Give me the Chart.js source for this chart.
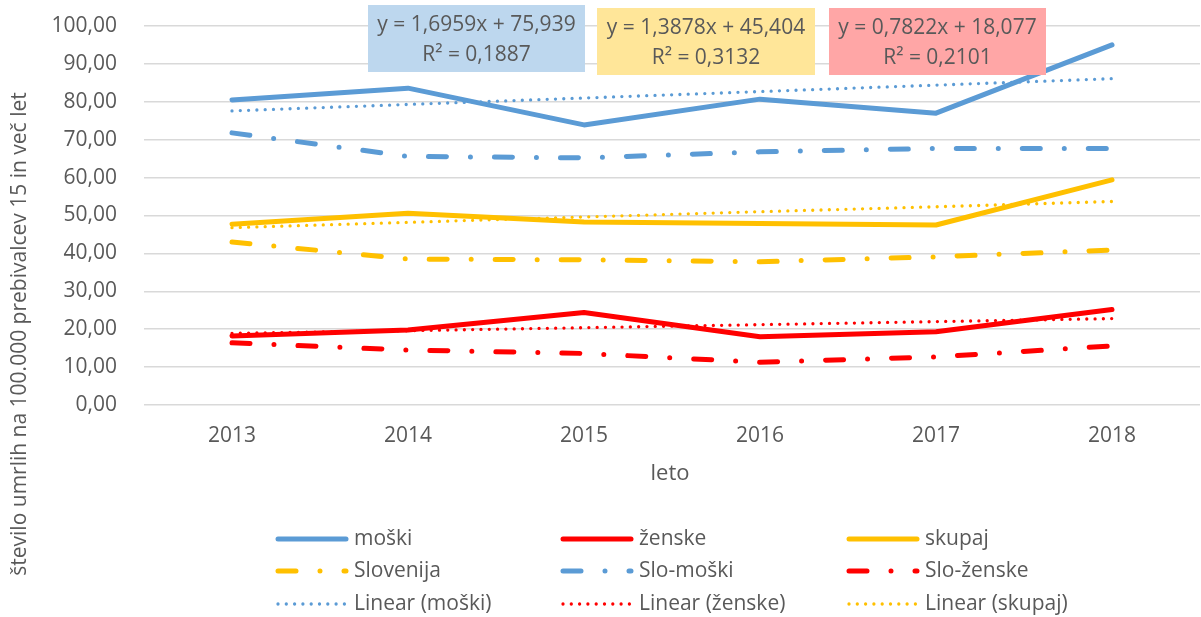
<!DOCTYPE html>
<html>
<head>
<meta charset="utf-8">
<script src="https://cdn.jsdelivr.net/npm/chart.js@4"></script>
<style>
    html, body { margin: 0; padding: 0; background: #fff; overflow: hidden; }
    #graf { display: block; }
</style>
</head>
<body>
<canvas id="graf" width="1201" height="617"></canvas>
<script>
// === Podatki ===
const leta = ['2013', '2014', '2015', '2016', '2017', '2018'];
const moski = [80.5, 83.6, 73.9, 80.7, 77.0, 95.0];
const zenske = [18.2, 19.8, 24.4, 18.0, 19.3, 25.2];
const skupaj = [47.7, 50.6, 48.3, 47.9, 47.5, 59.4];
const slovenija = [43.0, 38.5, 38.3, 37.8, 39.1, 40.9];
const sloMoski = [71.8, 65.6, 65.2, 66.8, 67.7, 67.7];
const sloZenske = [16.4, 14.5, 13.6, 11.3, 12.7, 15.6];
const linMoski = [77.6, 79.3, 81.0, 82.7, 84.4, 86.1];
const linZenske = [18.9, 19.6, 20.4, 21.2, 22.0, 22.8];
const linSkupaj = [46.8, 48.2, 49.6, 51.0, 52.3, 53.7];
const enacbe = [
    ['y = 1,6959x + 75,939', 'R² = 0,1887'],
    ['y = 1,3878x + 45,404', 'R² = 0,3132'],
    ['y = 0,7822x + 18,077', 'R² = 0,2101']
];

const MODRA = '#5B9BD5';
const RDECA = '#FF0000';
const RUMENA = '#FFC000';
const SIVA = '#595959';
const FONT = "'Open Sans', sans-serif";

const pikice = [0, 8.3];
const crtaPika = [18, 24, 0, 24];

function serija(label, data, color, dash, width) {
    return {
        label: label,
        data: data,
        borderColor: color,
        backgroundColor: color,
        borderWidth: width,
        borderDash: dash,
        borderCapStyle: 'round',
        borderJoinStyle: 'round',
        pointRadius: 0,
        tension: 0,
        fill: false
    };
}

// legenda v treh stolpcih, kot v Excelu
const legendaX = [278, 563, 849];
const legendaY = [539, 571, 604];

// okvirji z enačbami trendnih črt
const okvirji = [
    { x: 368, y: 5, w: 217, h: 67, barva: '#BDD7EE' },
    { x: 597, y: 8, w: 218, h: 67, barva: '#FFE699' },
    { x: 829, y: 8, w: 217, h: 67, barva: '#FFA6A6' }
];

const dodatki = {
    id: 'dodatki',
    afterDatasetsDraw(chart) {
        const ctx = chart.ctx;
        ctx.save();
        ctx.font = '21px ' + FONT;
        ctx.textAlign = 'center';
        ctx.textBaseline = 'middle';
        okvirji.forEach((o, i) => {
            ctx.fillStyle = o.barva;
            ctx.fillRect(o.x, o.y, o.w, o.h);
            ctx.fillStyle = SIVA;
            ctx.fillText(enacbe[i][0], o.x + o.w / 2, o.y + 20);
            ctx.fillText(enacbe[i][1], o.x + o.w / 2, o.y + 50);
        });
        ctx.restore();
    },
    afterDraw(chart) {
        const ctx = chart.ctx;
        ctx.save();

        // naslov osi y
        ctx.fillStyle = SIVA;
        ctx.font = '21px ' + FONT;
        ctx.textAlign = 'center';
        ctx.textBaseline = 'middle';
        ctx.translate(20, 334);
        ctx.rotate(-Math.PI / 2);
        ctx.fillText('število umrlih na 100.000 prebivalcev 15 in več let', 0, 0);
        ctx.setTransform(1, 0, 0, 1, 0, 0);

        // naslov osi x
        ctx.font = '22px ' + FONT;
        ctx.fillText('leto', 670, 474);

        // legenda
        chart.data.datasets.forEach((ds, i) => {
            const x = legendaX[i % 3];
            const y = legendaY[Math.floor(i / 3)];
            ctx.beginPath();
            ctx.strokeStyle = ds.borderColor;
            ctx.lineWidth = ds.borderWidth;
            ctx.lineCap = 'round';
            ctx.setLineDash(ds.borderDash);
            ctx.moveTo(x, y);
            ctx.lineTo(x + 68, y);
            ctx.stroke();
            ctx.setLineDash([]);
            ctx.fillStyle = SIVA;
            ctx.font = '21px ' + FONT;
            ctx.textAlign = 'left';
            ctx.fillText(ds.label, x + 76, y);
        });
        ctx.restore();
    }
};

new Chart(document.getElementById('graf'), {
    type: 'line',
    data: {
        labels: leta,
        datasets: [
            serija('moški', moski, MODRA, [], 5),
            serija('ženske', zenske, RDECA, [], 5),
            serija('skupaj', skupaj, RUMENA, [], 5),
            serija('Slovenija', slovenija, RUMENA, crtaPika, 5),
            serija('Slo-moški', sloMoski, MODRA, crtaPika, 5),
            serija('Slo-ženske', sloZenske, RDECA, crtaPika, 5),
            serija('Linear (moški)', linMoski, MODRA, pikice, 3.3),
            serija('Linear (ženske)', linZenske, RDECA, pikice, 3.3),
            serija('Linear (skupaj)', linSkupaj, RUMENA, pikice, 3.3)
        ]
    },
    options: {
        responsive: false,
        animation: false,
        devicePixelRatio: 1,
        layout: { padding: { top: 26, right: 1, left: 0, bottom: 0 } },
        plugins: {
            legend: { display: false },
            tooltip: { enabled: false }
        },
        scales: {
            x: {
                offset: true,
                grid: { display: false, drawTicks: false },
                border: { display: false },
                ticks: { color: SIVA, font: { family: FONT, size: 21 }, padding: 18, maxRotation: 0 },
                afterFit: s => { s.height = 212; }
            },
            y: {
                min: 0,
                max: 100,
                grid: { color: '#D9D9D9', lineWidth: 1.5, drawTicks: false },
                border: { display: false },
                ticks: {
                    stepSize: 10,
                    color: SIVA,
                    font: { family: FONT, size: 21 },
                    padding: 27,
                    callback: v => v.toFixed(2).replace('.', ',')
                },
                afterFit: s => {
                    s.width = 144;
                    s.paddingTop = 0;
                    s.paddingBottom = 0;
                }
            }
        }
    },
    plugins: [dodatki]
});
</script>
</body>
</html>
